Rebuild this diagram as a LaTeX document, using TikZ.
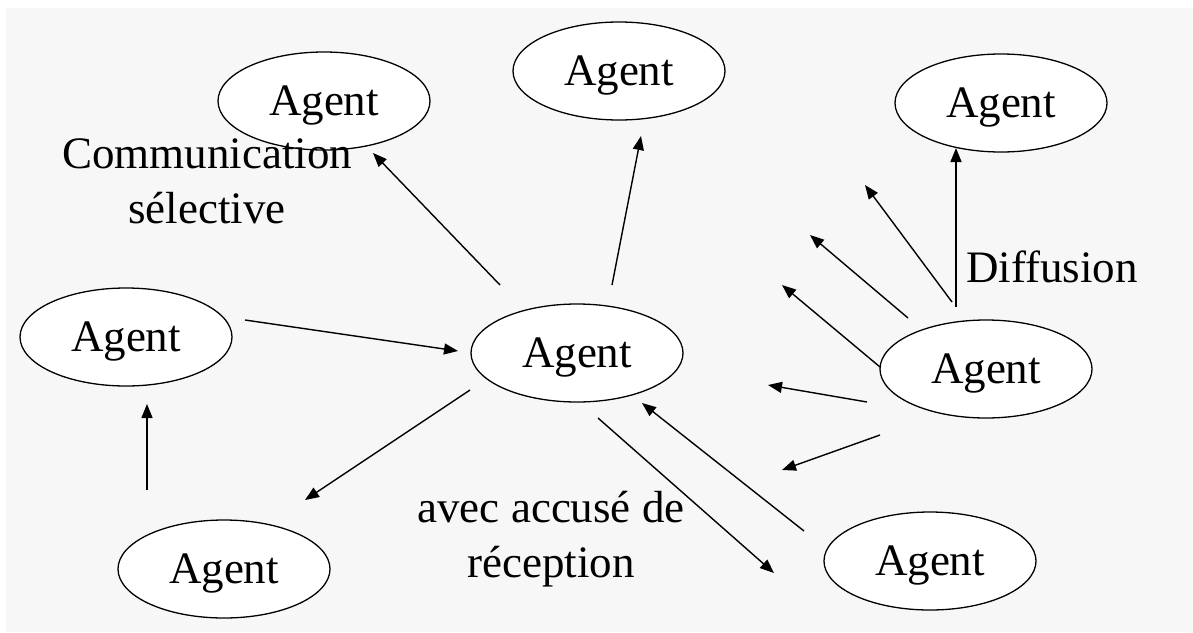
\documentclass[tikz,border=0pt]{standalone}
\usepackage{fontspec}
\setmainfont{Liberation Serif}
\usetikzlibrary{arrows.meta,shapes.geometric}
\definecolor{bggray}{HTML}{F7F7F7}
\begin{document}
\begin{tikzpicture}[x=1pt,y=-1pt,
  agent/.style={ellipse,draw=black,line width=1.3pt,fill=white,minimum width=212pt,minimum height=98pt,inner sep=0pt,text depth=0pt,font=\fontsize{45}{55}\selectfont},
  lbl/.style={anchor=base,inner sep=0pt,font=\fontsize{45}{55}\selectfont},
  arr/.style={line width=1.4pt,-{Triangle[length=14pt,width=11pt]}}]
\useasboundingbox (0,0) rectangle (1193,632);
\fill[white] (0,0) rectangle (1193,632);
\fill[bggray] (6,8) rectangle (1193,632);
% agents
\node[agent] (tl) at (324,101) {Agent};
\node[agent] (tm) at (619,71) {Agent};
\node[agent] (tr) at (1001,103) {Agent};
\node[agent] (l) at (126,337) {Agent};
\node[agent] (c) at (577,353) {Agent};
\node[agent] (r) at (986,369) {Agent};
\node[agent] (bl) at (224,569) {Agent};
\node[agent] (br) at (930,561) {Agent};
% labels
\node[lbl] (comm1) at (207,168) {Communication};
\node[lbl] (comm2) at (207,223) {sélective};
\node[lbl] (diff) at (1052,282) {Diffusion};
\node[lbl] (acc1) at (551,522) {avec accusé de};
\node[lbl] (acc2) at (551,577) {réception};
% connector end points
\coordinate (a1) at (500,285); \coordinate (a2) at (373,153);
\coordinate (b1) at (612,285); \coordinate (b2) at (641,136);
\coordinate (c1) at (245,320); \coordinate (c2) at (458,351);
\coordinate (d1) at (470,390); \coordinate (d2) at (305,500);
\coordinate (e1) at (147,490); \coordinate (e2) at (147,404);
\coordinate (f1) at (598,418); \coordinate (f2) at (774,573);
\coordinate (g1) at (804,531); \coordinate (g2) at (642,403);
\coordinate (h1) at (956,307); \coordinate (h2) at (956,148);
\coordinate (i1) at (952,302); \coordinate (i2) at (865,185);
\coordinate (j1) at (908,318); \coordinate (j2) at (810,235);
\coordinate (k1) at (880,367); \coordinate (k2) at (782,285);
\coordinate (m1) at (867,402); \coordinate (m2) at (768,385);
\coordinate (n1) at (880,435); \coordinate (n2) at (782,470);
% connectors
\draw[arr] (a1) -- (a2);
\draw[arr] (b1) -- (b2);
\draw[arr] (c1) -- (c2);
\draw[arr] (d1) -- (d2);
\draw[arr] (e1) -- (e2);
\draw[arr] (f1) -- (f2);
\draw[arr] (g1) -- (g2);
\draw[arr] (h1) -- (h2);
\draw[arr] (i1) -- (i2);
\draw[arr] (j1) -- (j2);
\draw[arr] (k1) -- (k2);
\draw[arr] (m1) -- (m2);
\draw[arr] (n1) -- (n2);
\end{tikzpicture}
\end{document}
